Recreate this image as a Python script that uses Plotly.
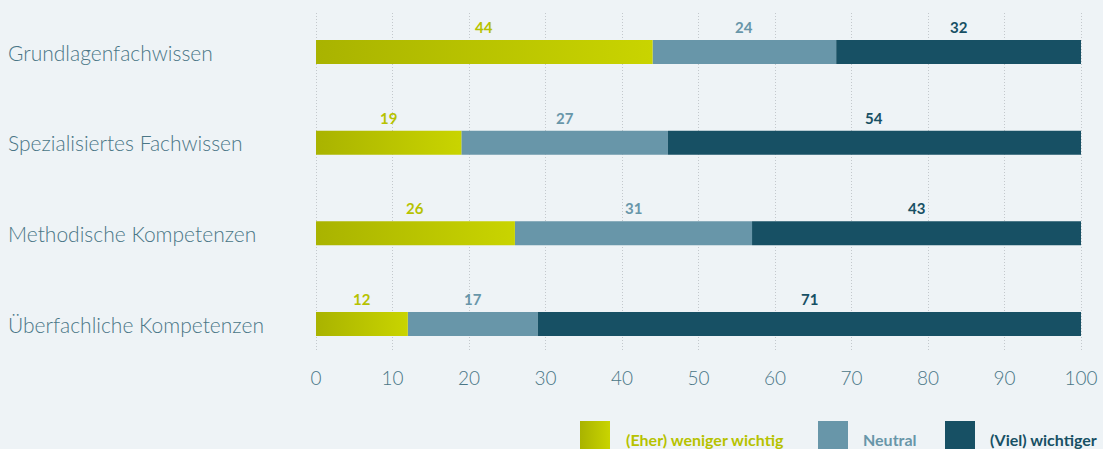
import plotly.graph_objects as go

# Survey data: share of answers (%) per competence area
categories = [
    "Grundlagenfachwissen",
    "Spezialisiertes Fachwissen",
    "Methodische Kompetenzen",
    "Überfachliche Kompetenzen",
]
less_important = [44, 19, 26, 12]
neutral = [24, 27, 31, 17]
more_important = [32, 54, 43, 71]
x_ticks = [0, 10, 20, 30, 40, 50, 60, 70, 80, 90, 100]

series_names = ["(Eher) weniger wichtig", "Neutral", "(Viel) wichtiger"]
grad_left, grad_right = "#a9b300", "#c9d400"
col_less_text = "#b6c200"
col_neutral = "#6896a9"
col_more = "#175064"
bg = "#eef3f6"
label_col = "#4a7686"

W, H = 1103, 449
bar_w = 0.265
label_off = 0.275

fig = go.Figure()
ypos = list(range(len(categories)))

# first segment: gradient-filled bars
for i, v in enumerate(less_important):
    fig.add_trace(go.Scatter(
        x=[0, v, v, 0, 0],
        y=[i - bar_w / 2, i - bar_w / 2, i + bar_w / 2, i + bar_w / 2, i - bar_w / 2],
        mode="lines", line=dict(width=0), fill="toself",
        fillgradient=dict(type="horizontal",
                          colorscale=[[0, grad_left], [1, grad_right]]),
        hoverinfo="skip", showlegend=False,
    ))

fig.add_trace(go.Bar(
    y=ypos, x=neutral, base=less_important, orientation="h",
    width=bar_w, marker=dict(color=col_neutral, line=dict(width=0)),
    name=series_names[1], showlegend=False,
))
fig.add_trace(go.Bar(
    y=ypos, x=more_important,
    base=[a + b for a, b in zip(less_important, neutral)], orientation="h",
    width=bar_w, marker=dict(color=col_more, line=dict(width=0)),
    name=series_names[2], showlegend=False,
))

annotations = []
label_font = dict(family="Lato", size=15, weight=700)
for i in ypos:
    a, b, c = less_important[i], neutral[i], more_important[i]
    for val, start, col in ((a, 0, col_less_text), (b, a, col_neutral), (c, a + b, col_more)):
        annotations.append(dict(
            x=start + val / 2, y=i - label_off, xref="x", yref="y",
            text=str(val), showarrow=False,
            font=dict(label_font, color=col),
        ))
    annotations.append(dict(
        x=6 / W, y=i, xref="paper", yref="y", xanchor="left",
        text=categories[i], showarrow=False,
        font=dict(family="Lato", size=21, weight=300, color=label_col),
    ))

# legend drawn on a pixel-based helper axis
legend_items = [
    (580, 624, series_names[0], col_less_text, None),
    (818, 861, series_names[1], col_neutral, col_neutral),
    (945, 988, series_names[2], col_more, col_more),
]
sq = 30
sq_top = 421
for x0, tx, name, tcol, fcol in legend_items:
    kw = dict(fillcolor=fcol) if fcol else dict(
        fillgradient=dict(type="horizontal",
                          colorscale=[[0, grad_left], [1, grad_right]]))
    fig.add_trace(go.Scatter(
        x=[x0, x0 + sq, x0 + sq, x0, x0],
        y=[sq_top, sq_top, sq_top + sq, sq_top + sq, sq_top],
        xaxis="x2", yaxis="y2", mode="lines", line=dict(width=0),
        fill="toself", hoverinfo="skip", showlegend=False, **kw,
    ))
    annotations.append(dict(
        x=tx, y=439, xref="x2", yref="y2", xanchor="left",
        text=name, showarrow=False,
        font=dict(family="Lato", size=16, weight=700, color=tcol),
    ))

top_px, bottom_px = 13, 352
pad = 0.4
px_per_unit = 7.65
fig.update_layout(
    width=W, height=H, autosize=False,
    margin=dict(l=0, r=0, t=0, b=0, autoexpand=False),
    paper_bgcolor=bg, plot_bgcolor="rgba(0,0,0,0)",
    barmode="overlay",
    showlegend=False,
    annotations=annotations,
    xaxis=dict(
        domain=[(316 - pad * px_per_unit) / W, (1081 + pad * px_per_unit) / W],
        range=[-pad, 100 + pad],
        tickvals=x_ticks, ticktext=[str(t) for t in x_ticks],
        showgrid=True, gridcolor="#c3c8cc", griddash="1px,2px", gridwidth=1,
        zeroline=False, showline=False, ticks="",
        ticklabelstandoff=13, automargin=False,
        tickfont=dict(family="Lato", size=19, weight=300, color=label_col),
    ),
    yaxis=dict(
        domain=[(H - bottom_px) / H, (H - top_px) / H],
        range=[3 + (bottom_px - 324) / 90.67, -(52 - top_px) / 90.67],
        showticklabels=False, showgrid=False, zeroline=False, showline=False,
        automargin=False,
    ),
    xaxis2=dict(domain=[0, 1], range=[0, W], visible=False, anchor="y2",
                fixedrange=True),
    yaxis2=dict(domain=[0, 1], range=[H, 0], visible=False, anchor="x2",
                fixedrange=True),
)

fig.write_html("out.html", config={"responsive": False})
